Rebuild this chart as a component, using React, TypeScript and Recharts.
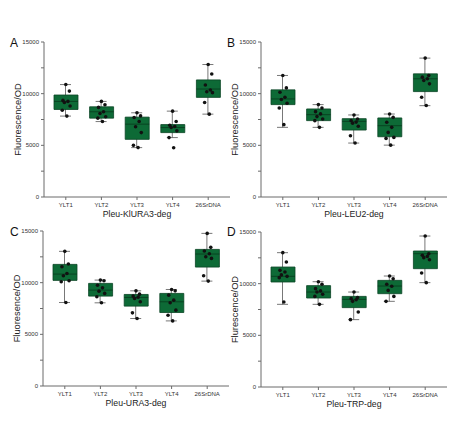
import {
  ComposedChart,
  Bar,
  Scatter,
  XAxis,
  YAxis,
} from "recharts";

const categories = ["YLT1", "YLT2", "YLT3", "YLT4", "26SrDNA"];
const yTicks = [0, 2500, 5000, 7500, 10000, 12500, 15000];

// A: Pleu-KlURA3-deg
const aMin = [7830, 7300, 4780, 5750, 8020];
const aQ1 = [8470, 7630, 5580, 6230, 9640];
const aMed = [9250, 8250, 7050, 6720, 10450];
const aQ3 = [9870, 8730, 7730, 7010, 11330];
const aMax = [10880, 9250, 8150, 8310, 12820];
const aPoints = [
  [10880, 10250, 9350, 9250, 9150, 8800, 8400, 7830],
  [9250, 8930, 8670, 8250, 8080, 7760, 7630, 7300],
  [8150, 7850, 7700, 7300, 6800, 6230, 5000, 4780],
  [8310, 7300, 6950, 6820, 6720, 6400, 5750, 4770],
  [12820, 11900, 10840, 10350, 10190, 10100, 9150, 8020],
];

// B: Pleu-LEU2-deg
const bMin = [6740, 6740, 5220, 5020, 8840];
const bQ1 = [8940, 7390, 6480, 5830, 10200];
const bMed = [9490, 7970, 7320, 6900, 11440];
const bQ3 = [10370, 8520, 7580, 7650, 11920];
const bMax = [11760, 8940, 7940, 8030, 13440];
const bPoints = [
  [11760, 10560, 10140, 9650, 9430, 9070, 8620, 7000],
  [8940, 8620, 8260, 8040, 7780, 7550, 7390, 6740],
  [7940, 7550, 7390, 7250, 7130, 6840, 5930, 5220],
  [8030, 7710, 7230, 6740, 6250, 5770, 5670, 5020],
  [13440, 11760, 11600, 11440, 11270, 10950, 9650, 8850],
];

// C: Pleu-URA3-deg
const cMin = [8080, 8050, 6530, 6300, 10150];
const cQ1 = [10220, 8700, 7730, 7110, 11510];
const cMed = [10830, 9280, 8570, 8150, 12770];
const cQ3 = [11770, 9930, 8860, 8960, 13220];
const cMax = [13030, 10250, 9210, 9340, 14770];
const cPoints = [
  [13030, 11800, 11540, 10890, 10670, 10180, 10090, 8080],
  [10250, 10180, 9750, 9500, 9180, 8960, 8630, 8050],
  [9210, 8890, 8700, 8600, 8470, 8150, 7080, 6530],
  [9340, 9210, 8790, 8310, 8050, 7340, 6850, 6300],
  [14770, 13420, 13060, 12800, 12510, 12350, 10670, 10150],
];

// D: Pleu-TRP-deg
const dMin = [8000, 8000, 6520, 8290, 10100];
const dQ1 = [10160, 8610, 7680, 9030, 11450];
const dMed = [10710, 9190, 8480, 9770, 12900];
const dQ3 = [11610, 9810, 8770, 10320, 13160];
const dMax = [13000, 10190, 9190, 10740, 14610];
const dPoints = [
  [13000, 12100, 11290, 11130, 10850, 10710, 10580, 8230],
  [10190, 9940, 9520, 9300, 9190, 8970, 8770, 8000],
  [9190, 8650, 8550, 8450, 8290, 7260, 6520],
  [10740, 10480, 9940, 9750, 9350, 8770, 8290],
  [14610, 12900, 12750, 12640, 12520, 12320, 11030, 10100],
];

// horizontal spread of the dots inside a box (fraction of a category)
const JITTER = [0, 0.1, -0.08, 0.06, -0.04, 0.12, -0.1, 0.03];

const FONT = "'Liberation Sans', Arial, sans-serif";
const BOX_FILL = "#0d6a36";
const BOX_STROKE = "#0a4424";
const AXIS = "#6b6b6b";

const Whisker = (props: any) => {
  const { x, y, width, height } = props;
  const cx = x + width / 2;
  return (
    <g stroke="#555" strokeWidth={0.8}>
      <line x1={cx} x2={cx} y1={y} y2={y + height} />
      <line x1={x} x2={x + width} y1={y} y2={y} />
      <line x1={x} x2={x + width} y1={y + height} y2={y + height} />
    </g>
  );
};

const Median = (props: any) => {
  const { x, y, width } = props;
  return <line x1={x} x2={x + width} y1={y} y2={y} stroke="#073a1d" strokeWidth={0.8} />;
};

const Dot = (props: any) => (
  <circle cx={props.cx} cy={props.cy} r={1.8} fill="#111" />
);

function BoxPanel({
  mins, q1s, meds, q3s, maxs, points, title, yTitle, left, top,
}: {
  mins: number[]; q1s: number[]; meds: number[]; q3s: number[]; maxs: number[];
  points: number[][]; title: string; yTitle: string; left: number; top: number;
}) {
  const rows = categories.map((cat, i) => ({
    cat,
    whisker: [mins[i], maxs[i]],
    box: [q1s[i], q3s[i]],
    median: [q1s[i], meds[i]],
  }));
  const dots = points.flatMap((vals, i) =>
    vals.map((v, j) => ({ x: i + JITTER[j % JITTER.length], v }))
  );
  const pad = { left: 4, right: 4 };

  return (
    <div style={{ position: "absolute", left, top }}>
      <ComposedChart
        width={232}
        height={193}
        data={rows}
        margin={{ top: 12, right: 2, left: 8, bottom: 12 }}
        style={{ fontFamily: FONT }}
      >
        <XAxis
          xAxisId="cat"
          dataKey="cat"
          interval={0}
          padding={pad}
          height={14}
          tickSize={3}
          tickMargin={3}
          stroke={AXIS}
          tick={{ fontSize: 6, fill: "#333" }}
          label={{ value: title, position: "bottom", offset: 0, fontSize: 8.7, fill: "#222" }}
        />
        <XAxis xAxisId="w" dataKey="cat" padding={pad} hide />
        <XAxis xAxisId="m" dataKey="cat" padding={pad} hide />
        <XAxis
          xAxisId="pts"
          dataKey="x"
          type="number"
          domain={[-0.5, 4.5]}
          allowDataOverflow
          padding={pad}
          hide
        />
        <YAxis
          width={36}
          domain={[0, 15000]}
          ticks={yTicks}
          interval={0}
          allowDataOverflow
          tickSize={3}
          tickMargin={2}
          stroke={AXIS}
          tick={{ fontSize: 6, fill: "#333" }}
          tickFormatter={(v: number) => (v % 5000 === 0 ? String(v) : "")}
          label={{
            value: yTitle,
            angle: -90,
            position: "insideLeft",
            offset: 10,
            fontSize: 9.3,
            fill: "#222",
            style: { textAnchor: "middle" },
          }}
        />
        <Bar xAxisId="w" dataKey="whisker" barSize={11} shape={Whisker} isAnimationActive={false} />
        <Bar
          xAxisId="cat"
          dataKey="box"
          barSize={24}
          fill={BOX_FILL}
          stroke={BOX_STROKE}
          strokeWidth={0.8}
          isAnimationActive={false}
        />
        <Bar xAxisId="m" dataKey="median" barSize={24} shape={Median} isAnimationActive={false} />
        <Scatter xAxisId="pts" data={dots} dataKey="v" shape={Dot} isAnimationActive={false} />
      </ComposedChart>
    </div>
  );
}

export default function App() {
  return (
    <div
      style={{
        position: "absolute",
        left: 0,
        top: 0,
        width: 461,
        height: 421,
        background: "#fff",
        fontFamily: FONT,
      }}
    >
      <BoxPanel mins={aMin} q1s={aQ1} meds={aMed} q3s={aQ3} maxs={aMax} points={aPoints}
        title="Pleu-KlURA3-deg" yTitle="Fluorescence/OD" left={0} top={30} />
      <BoxPanel mins={bMin} q1s={bQ1} meds={bMed} q3s={bQ3} maxs={bMax} points={bPoints}
        title="Pleu-LEU2-deg" yTitle="Fluorescence/OD" left={217} top={30} />
      <BoxPanel mins={cMin} q1s={cQ1} meds={cMed} q3s={cQ3} maxs={cMax} points={cPoints}
        title="Pleu-URA3-deg" yTitle="Fluoresence/OD" left={-1} top={219} />
      <BoxPanel mins={dMin} q1s={dQ1} meds={dMed} q3s={dQ3} maxs={dMax} points={dPoints}
        title="Pleu-TRP-deg" yTitle="Flurescence/OD" left={217} top={220} />
      <svg
        width={461}
        height={421}
        style={{ position: "absolute", left: 0, top: 0, pointerEvents: "none" }}
        fontFamily={FONT}
        fontSize={12}
        fill="#111"
      >
        <text x={10} y={47}>A</text>
        <text x={227} y={47}>B</text>
        <text x={10} y={236}>C</text>
        <text x={227} y={236}>D</text>
      </svg>
    </div>
  );
}
